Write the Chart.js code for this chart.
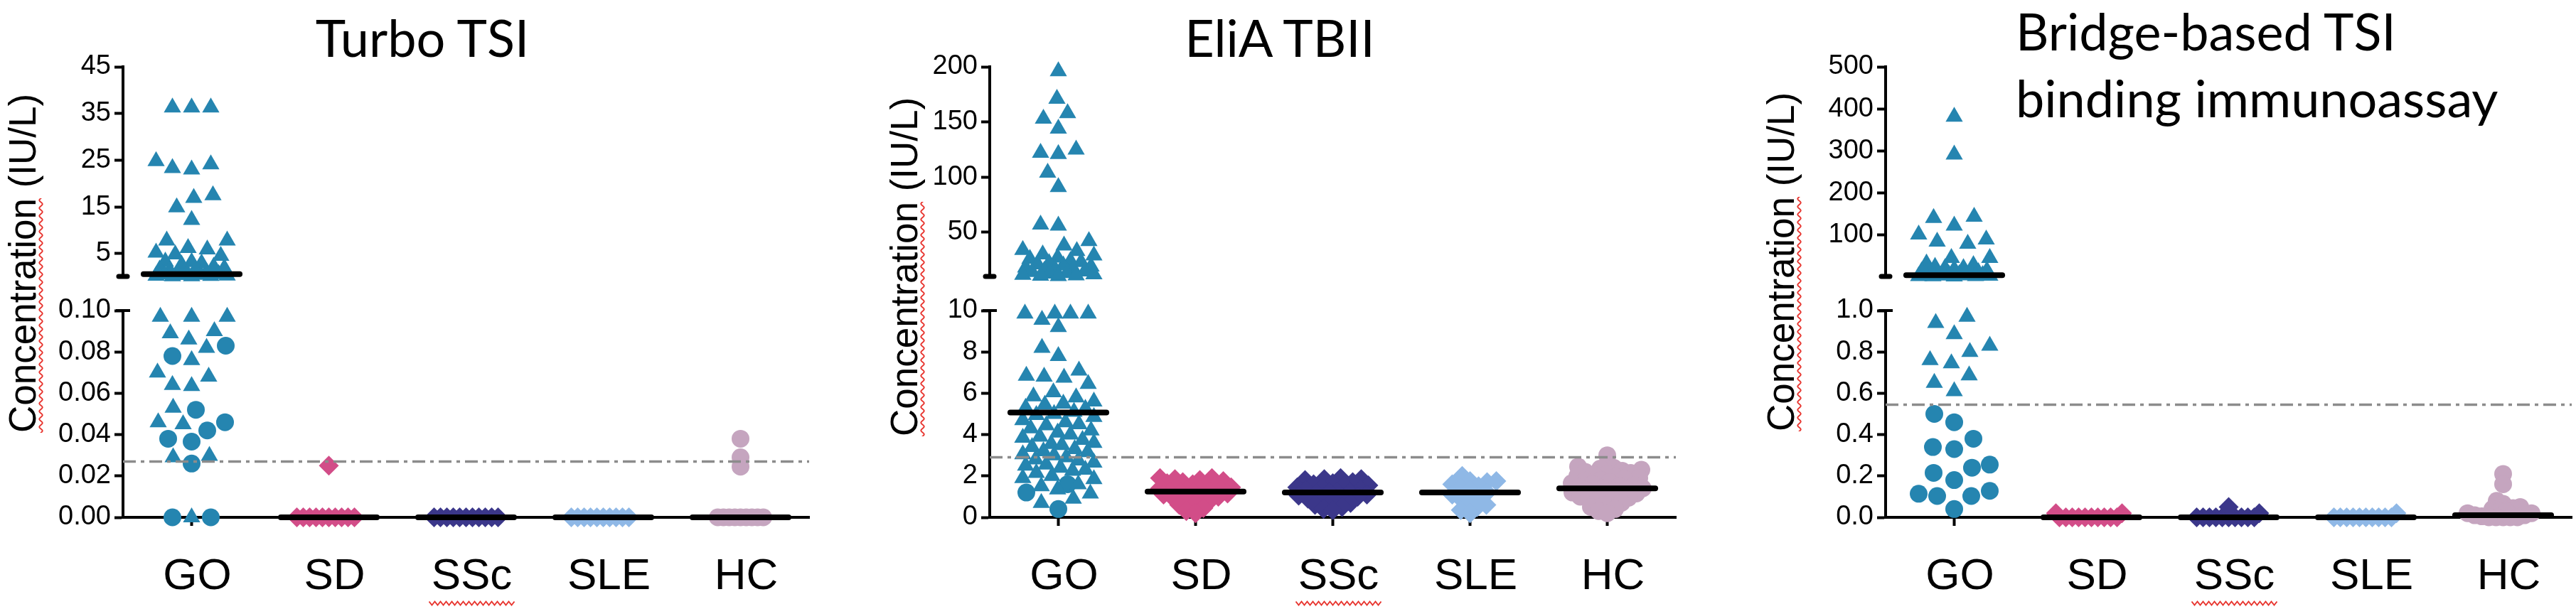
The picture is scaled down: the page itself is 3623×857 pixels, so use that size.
<!DOCTYPE html>
<html>
<head>
<meta charset="utf-8">
<script src="https://cdn.jsdelivr.net/npm/chart.js@4.4.0/dist/chart.umd.min.js"></script>
<style>
  body { margin: 0; width: 3623px; height: 857px; background: #fff; position: relative; overflow: hidden; }
  canvas { position: absolute; top: 0; }
  .title { position: absolute; font-family: Lato, "Open Sans", sans-serif; font-size: 72px; line-height: 94px; color: #000; white-space: nowrap; }
  .ytitle { position: absolute; font-family: "Liberation Sans", Arial, sans-serif; font-size: 53px; line-height: 1; color: #000;
            white-space: nowrap; transform-origin: 0 0; transform: rotate(-90deg); }
  .ytitle span { text-decoration: underline wavy #e8352f; text-decoration-thickness: 2px; text-underline-offset: 4px; }
</style>
</head>
<body>
<script>
// ---- data ----
const categories = ['GO', 'SD', 'SSc', 'SLE', 'HC'];

// Turbo TSI
const turboUpperRange = [0.1, 45];
const turboLowerRange = [0, 0.1];
const turboUpperTicks = [5, 15, 25, 35, 45];
const turboLowerTicks = [0, 0.02, 0.04, 0.06, 0.08, 0.10];
const turboGoTri = [36.3, 36.3, 36.3, 24.8, 24.1, 23.3, 23.0, 17.5, 16.9, 14.9, 12.2, 7.8, 7.8,
  6.2, 5.9, 5.2, 4.8, 4.5, 3.3, 3.2, 2.9, 2.6, 2.2, 1.9, 1.6, 1.4, 1.2, 1.0, 0.8, 0.7, 0.6, 0.5,
  0.45, 0.4, 0.3, 0.25, 0.2, 0.15, 0.12,
  0.097, 0.097, 0.097, 0.090, 0.089, 0.086, 0.082, 0.076, 0.070, 0.068, 0.064, 0.0635, 0.053,
  0.046, 0.045, 0.0297, 0.029, 0];
const turboGoCirc = [0.083, 0.078, 0.052, 0.046, 0.042, 0.038, 0.0366, 0.026, 0, 0];
const turboSD = [0, 0, 0, 0, 0, 0, 0, 0, 0, 0, 0.025];
const turboSSc = [0, 0, 0, 0, 0, 0, 0, 0, 0, 0, 0];
const turboSLE = [0, 0, 0, 0, 0, 0, 0, 0, 0, 0];
const turboHC = [0, 0, 0, 0, 0, 0, 0, 0, 0, 0.038, 0.029, 0.0245];
const turboMedians = [0.6, 0, 0, 0, 0];
const turboCutoff = 0.027;

// EliA TBII
const eliaUpperRange = [10, 200];
const eliaLowerRange = [0, 10];
const eliaUpperTicks = [50, 100, 150, 200];
const eliaLowerTicks = [0, 2, 4, 6, 8, 10];
const eliaGoTri = [196, 171, 158, 153, 144, 125, 122, 121, 104, 91, 57, 56, 42, 38, 34, 33, 30, 29,
  27, 26, 24, 23, 22, 21, 20, 19, 18, 17, 16, 15, 14.5, 14, 13, 12.5, 12, 11.5, 11, 10.6, 10.3,
  9.85, 9.85, 9.85, 9.85, 9.55, 9.2, 8.2, 7.8, 7.1, 6.85, 6.8, 6.75, 6.45, 6.05, 5.85, 5.8, 5.6,
  5.5, 5.45, 5.3, 5.25, 5.1, 5.0, 4.95, 4.85, 4.7, 4.6, 4.5, 4.45, 4.3, 4.2, 4.1, 4.0, 3.9, 3.85,
  3.75, 3.6, 3.55, 3.5, 3.4, 3.3, 3.2, 3.15, 3.05, 3.0, 2.9, 2.8, 2.75, 2.65, 2.55, 2.5, 2.4, 2.3,
  2.25, 2.15, 2.0, 1.9, 1.85, 1.6, 1.5, 1.35, 1.15, 0.9, 0.7];
const eliaGoCirc = [1.6, 1.2, 0.4];
const eliaSD = [1.9, 1.9, 1.85, 1.8, 1.75, 1.7, 1.65, 1.6, 1.55, 1.5, 1.45, 1.4, 1.4, 1.35, 1.3, 1.3,
  1.25, 1.25, 1.2, 1.2, 1.15, 1.1, 1.05, 1.0, 0.95, 0.9, 0.8, 0.7, 0.6, 0.45, 0.3, 0.2];
const eliaSSc = [1.9, 1.85, 1.85, 1.8, 1.7, 1.65, 1.6, 1.55, 1.5, 1.45, 1.4, 1.35, 1.3, 1.25, 1.2,
  1.2, 1.15, 1.1, 1.05, 1.0, 0.95, 0.9, 0.85, 0.8, 0.7, 0.6, 0.5, 0.4, 0.35];
const eliaSLE = [2.0, 1.75, 1.75, 1.7, 1.6, 1.5, 1.4, 1.3, 1.2, 1.1, 1.0, 0.9, 0.8, 0.6, 0.5, 0.35, 0.2];
const eliaHC = [3.0, 2.45, 2.4, 2.35, 2.3, 2.25, 2.2, 2.15, 2.1, 2.05, 2.0, 1.95, 1.9, 1.85, 1.8,
  1.75, 1.7, 1.65, 1.6, 1.55, 1.5, 1.45, 1.4, 1.4, 1.35, 1.3, 1.3, 1.25, 1.2, 1.15, 1.1, 1.05, 1.0,
  0.95, 0.9, 0.85, 0.8, 0.7, 0.6, 0.5, 0.4, 0.3, 0.2];
const eliaMedians = [5.07, 1.25, 1.2, 1.2, 1.4];
const eliaCutoff = 2.9;

// Bridge-based TSI binding immunoassay
const bridgeUpperRange = [1, 500];
const bridgeLowerRange = [0, 1];
const bridgeUpperTicks = [100, 200, 300, 400, 500];
const bridgeLowerTicks = [0, 0.2, 0.4, 0.6, 0.8, 1.0];
const bridgeGoTri = [381, 291, 143, 140, 122, 101, 89, 84, 79, 45, 45, 32, 28, 24, 21, 21, 18, 15,
  13, 11, 9, 8, 7, 6, 5, 4.5, 4, 3.5, 3, 2.5, 2, 1.8, 1.5, 1.2,
  0.97, 0.94, 0.886, 0.83, 0.80, 0.76, 0.745, 0.686, 0.65, 0.61];
const bridgeGoCirc = [0.50, 0.46, 0.38, 0.34, 0.33, 0.255, 0.24, 0.215, 0.18, 0.128, 0.114, 0.103,
  0.103, 0.04];
const bridgeSD = [0, 0, 0, 0, 0, 0, 0, 0, 0, 0, 0.02, 0.02];
const bridgeSSc = [0, 0, 0, 0, 0, 0, 0, 0, 0, 0, 0.02, 0.05];
const bridgeSLE = [0, 0, 0, 0, 0, 0, 0, 0, 0, 0, 0.02];
const bridgeHC = [0.21, 0.16, 0.08, 0.065, 0.05, 0.045, 0.04, 0.03, 0.03, 0.02, 0.02, 0.01, 0.01,
  0.005, 0, 0, 0, 0, 0];
const bridgeMedians = [4, 0, 0, 0, 0.01];
const bridgeCutoff = 0.545;

// ---- layout and styles ----
const H = 857;
const PLOT_W = 965;
const BIN = PLOT_W / categories.length;
const Y_AXIS_W = 170;
const UPPER_BOX = { top: 94, bottom: 389 };
const LOWER_BOX = { top: 437, bottom: 728 };
const colors = ['#2585b0', '#d24d88', '#3b378a', '#8fb8e6', '#c5a5bf'];
const markers = {
  triangle: { style: 'triangle', radius: 14 },
  circle: { style: 'circle', radius: 12.5 },
  diamond: { style: 'rectRot', radius: 14 }
};
const FONT = '"Liberation Sans", Arial, sans-serif';
Chart.defaults.font.family = FONT;

const panels = [
  {
    axisX: 173, title: ['Turbo TSI'], titleLeft: 594, centered: true, titleTop: 5,
    yTitleBase: 50, yTitleMid: 370, decimals: 2,
    upperRange: turboUpperRange, lowerRange: turboLowerRange,
    upperTicks: turboUpperTicks, lowerTicks: turboLowerTicks,
    series: [
      { cat: 0, values: turboGoTri, marker: 'triangle' },
      { cat: 0, values: turboGoCirc, marker: 'circle' },
      { cat: 1, values: turboSD, marker: 'diamond' },
      { cat: 2, values: turboSSc, marker: 'diamond' },
      { cat: 3, values: turboSLE, marker: 'diamond' },
      { cat: 4, values: turboHC, marker: 'circle' }
    ],
    spacing: [27, 9, 9, 9, 8],
    medians: turboMedians, cutoff: turboCutoff
  },
  {
    axisX: 1392, title: ['EliA TBII'], titleLeft: 1800, centered: true, titleTop: 5,
    yTitleBase: 1290, yTitleMid: 375, decimals: 0,
    upperRange: eliaUpperRange, lowerRange: eliaLowerRange,
    upperTicks: eliaUpperTicks, lowerTicks: eliaLowerTicks,
    series: [
      { cat: 0, values: eliaGoTri, marker: 'triangle' },
      { cat: 0, values: eliaGoCirc, marker: 'circle' },
      { cat: 1, values: eliaSD, marker: 'diamond' },
      { cat: 2, values: eliaSSc, marker: 'diamond' },
      { cat: 3, values: eliaSLE, marker: 'diamond' },
      { cat: 4, values: eliaHC, marker: 'circle' }
    ],
    spacing: [25, 13, 13, 13, 12],
    medians: eliaMedians, cutoff: eliaCutoff
  },
  {
    axisX: 2652, title: ['Bridge-based TSI', 'binding immunoassay'], titleLeft: 2835, centered: false, titleTop: -4,
    yTitleBase: 2523, yTitleMid: 368, decimals: 1,
    upperRange: bridgeUpperRange, lowerRange: bridgeLowerRange,
    upperTicks: bridgeUpperTicks, lowerTicks: bridgeLowerTicks,
    series: [
      { cat: 0, values: bridgeGoTri, marker: 'triangle' },
      { cat: 0, values: bridgeGoCirc, marker: 'circle' },
      { cat: 1, values: bridgeSD, marker: 'diamond' },
      { cat: 2, values: bridgeSSc, marker: 'diamond' },
      { cat: 3, values: bridgeSLE, marker: 'diamond' },
      { cat: 4, values: bridgeHC, marker: 'circle' }
    ],
    spacing: [30, 9, 9, 9, 10],
    medians: bridgeMedians, cutoff: bridgeCutoff
  }
];

function inLower(panel, v) {
  return v <= panel.lowerRange[1];
}

function valueToPx(panel, v) {
  const lower = inLower(panel, v);
  const [min, max] = lower ? panel.lowerRange : panel.upperRange;
  const box = lower ? LOWER_BOX : UPPER_BOX;
  return box.top + (max - v) / (max - min) * (box.bottom - box.top);
}

// simple beeswarm: spread points sideways so they do not pile on top of each other
function swarm(items, gap, maxHalf) {
  const placed = [];
  items.slice().sort((a, b) => b.py - a.py).forEach(item => {
    let best = 0, bestCost = Infinity;
    for (let k = 0; k <= maxHalf; k++) {
      const cands = k === 0 ? [0] : [-k, k];
      for (const off of cands) {
        let cost = 0;
        for (const p of placed) {
          const dx = off - p.off, dy = item.py - p.py;
          const dist = Math.sqrt(dx * dx + dy * dy);
          if (dist < gap) cost = Math.max(cost, gap - dist);
        }
        if (cost < bestCost - 1e-9) { bestCost = cost; best = off; }
      }
      if (bestCost === 0) break;
    }
    item.off = best;
    placed.push(item);
  });
}

function preparePoints(panel) {
  panel.series.forEach(s => {
    s.items = s.values.map(v => ({ v, py: valueToPx(panel, v), off: 0 }));
  });
  categories.forEach((c, i) => {
    const group = [];
    panel.series.filter(s => s.cat === i).forEach(s => group.push(...s.items));
    swarm(group, panel.spacing[i], 50);
  });
}

const breakCaps = {
  id: 'breakCaps',
  afterDraw(chart, args, opts) {
    const { ctx, chartArea } = chart;
    const x = chartArea.left;
    ctx.save();
    ctx.strokeStyle = '#000';
    if (opts.kind === 'upper') {
      ctx.lineWidth = 7;
      ctx.lineCap = 'round';
      ctx.beginPath();
      ctx.moveTo(x - 6, chartArea.bottom);
      ctx.lineTo(x + 6, chartArea.bottom);
      ctx.stroke();
    } else {
      ctx.lineWidth = 4;
      ctx.beginPath();
      ctx.moveTo(x - 10, chartArea.top);
      ctx.lineTo(x + 10, chartArea.top);
      ctx.stroke();
      // spell-check squiggle under the SSc label
      const cx = chart.scales.x.getPixelForValue(2) + 8;
      const y = 849;
      ctx.strokeStyle = '#e8352f';
      ctx.lineWidth = 2;
      ctx.beginPath();
      for (let t = -60, k = 0; t <= 60; t += 4, k++) {
        const yy = y + (k % 2 ? 2.5 : -2.5);
        if (k === 0) ctx.moveTo(cx + t, yy); else ctx.lineTo(cx + t, yy);
      }
      ctx.stroke();
    }
    ctx.restore();
  }
};

function makeChart(panel, kind) {
  const lower = kind === 'lower';
  const range = lower ? panel.lowerRange : panel.upperRange;
  const tickValues = lower ? panel.lowerTicks : panel.upperTicks;
  const canvas = document.createElement('canvas');
  const w = Y_AXIS_W + PLOT_W + 20;
  canvas.width = w;
  canvas.height = H;
  canvas.style.left = (panel.axisX - Y_AXIS_W) + 'px';
  canvas.style.width = w + 'px';
  canvas.style.height = H + 'px';
  document.body.appendChild(canvas);

  const datasets = [];
  panel.medians.forEach((m, i) => {
    if (inLower(panel, m) !== lower) return;
    datasets.push({
      type: 'line', order: 0,
      data: [{ x: i - 0.35, y: m }, { x: i + 0.35, y: m }],
      borderColor: '#000', borderWidth: 8, borderCapStyle: 'round',
      pointRadius: 0, fill: false, clip: false
    });
  });
  if (inLower(panel, panel.cutoff) === lower) {
    datasets.push({
      type: 'line', order: 1,
      data: [{ x: -0.5, y: panel.cutoff }, { x: categories.length - 0.5, y: panel.cutoff }],
      borderColor: '#8c8c8c', borderWidth: 3.5, borderDash: [18, 7, 5, 7],
      pointRadius: 0, fill: false
    });
  }
  panel.series.forEach(s => {
    const m = markers[s.marker];
    datasets.push({
      type: 'scatter', order: 2,
      data: s.items.filter(it => inLower(panel, it.v) === lower)
        .map(it => ({ x: s.cat + it.off / BIN, y: it.v })),
      pointStyle: m.style, pointRadius: m.radius,
      backgroundColor: colors[s.cat], borderColor: colors[s.cat], borderWidth: 0,
      clip: false
    });
  });

  const xScale = {
    type: 'linear',
    display: lower,
    min: -0.5,
    max: categories.length - 0.5,
    afterBuildTicks: s => { s.ticks = categories.map((c, i) => ({ value: i })); },
    grid: { display: true, drawOnChartArea: false, drawTicks: true, tickLength: 12, tickWidth: 4, tickColor: '#000' },
    border: { display: true, width: 4, color: '#000' },
    ticks: {
      callback: v => categories[v] ?? '',
      font: { size: 62, family: FONT },
      color: '#000',
      padding: 35,
      labelOffset: 8,
      maxRotation: 0,
      autoSkip: false
    }
  };
  if (lower) xScale.afterFit = s => { s.height = H - LOWER_BOX.bottom; };

  new Chart(canvas, {
    type: 'scatter',
    data: { datasets },
    plugins: [breakCaps],
    options: {
      responsive: false,
      devicePixelRatio: 1,
      animation: false,
      events: [],
      layout: {
        padding: lower
          ? { top: LOWER_BOX.top, bottom: 0, left: 0, right: 20 }
          : { top: UPPER_BOX.top, bottom: H - UPPER_BOX.bottom, left: 0, right: 20 }
      },
      plugins: {
        legend: { display: false },
        tooltip: { enabled: false },
        breakCaps: { kind }
      },
      scales: {
        x: xScale,
        y: {
          type: 'linear',
          min: range[0],
          max: range[1],
          afterBuildTicks: s => { s.ticks = tickValues.map(v => ({ value: v })); },
          afterFit: s => { s.width = Y_AXIS_W; },
          grid: { display: true, drawOnChartArea: false, drawTicks: true, tickLength: 12, tickWidth: 4, tickColor: '#000' },
          border: { display: true, width: 4, color: '#000' },
          ticks: {
            callback: v => lower ? Number(v).toFixed(panel.decimals) : String(v),
            font: { size: 38, family: FONT },
            color: '#000',
            padding: 5,
            autoSkip: false
          }
        }
      }
    }
  });
}

function addTexts(panel) {
  const t = document.createElement('div');
  t.className = 'title';
  t.innerHTML = panel.title.join('<br>');
  t.style.top = panel.titleTop + 'px';
  t.style.left = panel.titleLeft + 'px';
  if (panel.centered) t.style.transform = 'translateX(-50%)';
  document.body.appendChild(t);

  const y = document.createElement('div');
  y.className = 'ytitle';
  y.innerHTML = '<span>Concentration</span> (IU/L)';
  document.body.appendChild(y);
  const wy = y.offsetWidth;
  y.style.left = (panel.yTitleBase - 45) + 'px';
  y.style.top = (panel.yTitleMid + wy / 2) + 'px';
}

panels.forEach(panel => {
  preparePoints(panel);
  makeChart(panel, 'upper');
  makeChart(panel, 'lower');
  addTexts(panel);
});
</script>
</body>
</html>
